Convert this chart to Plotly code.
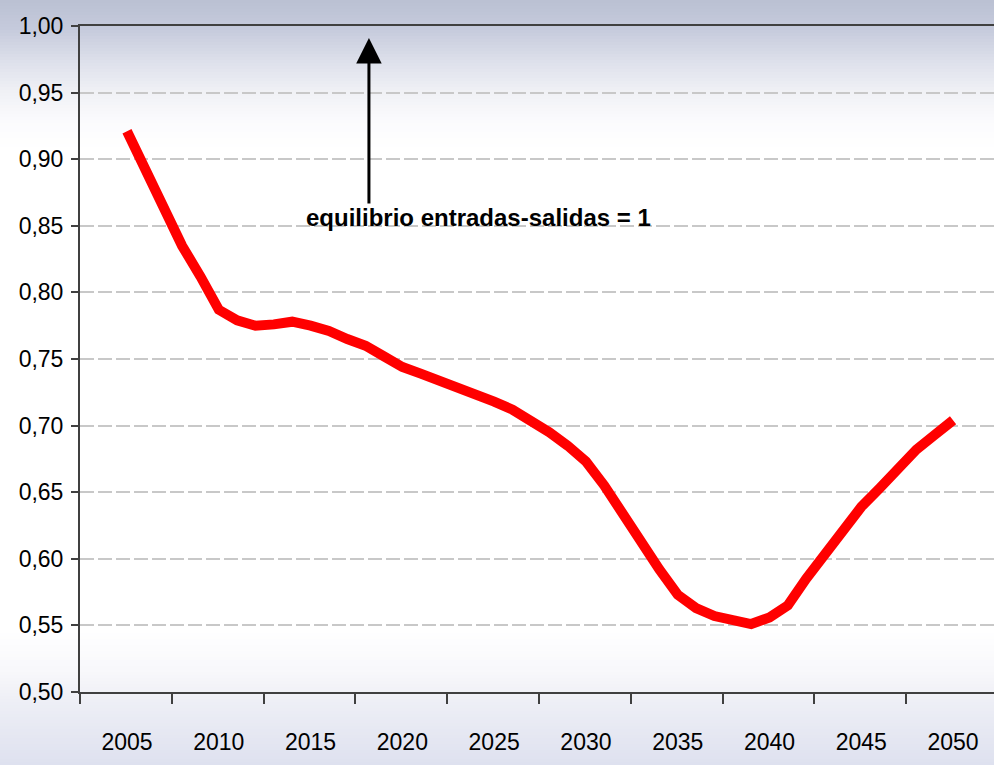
import numpy as np
import plotly.graph_objects as go

years = list(range(2005, 2051))
ratio = [0.921, 0.893, 0.862, 0.835, 0.812, 0.787, 0.779, 0.775, 0.776, 0.778,
         0.775, 0.771, 0.765, 0.760, 0.752, 0.744, 0.739, 0.734, 0.730, 0.725,
         0.718, 0.712, 0.704, 0.695, 0.685, 0.673, 0.655, 0.633, 0.611, 0.592,
         0.573, 0.563, 0.557, 0.554, 0.551, 0.556, 0.565, 0.585, 0.604, 0.621,
         0.639, 0.653, 0.668, 0.682, 0.693, 0.704]
tick_years = list(range(2005, 2051, 5))
tick_labels = [str(y) for y in tick_years]
y_ticks = [0.50, 0.55, 0.60, 0.65, 0.70, 0.75, 0.80, 0.85, 0.90, 0.95, 1.00]
note_text = "equilibrio entradas-salidas = 1"

W, H = 994, 765
ML, MR, MT, MB = 80, 0, 26, 73
PH = H - MT - MB
PW = W - ML - MR

FONT = "Liberation Sans, Arial, sans-serif"

fig = go.Figure()
fig.add_trace(go.Scatter(x=years, y=ratio, mode="lines",
                         line=dict(color="#ff0000", width=10),
                         hoverinfo="skip", showlegend=False))

# background gradient bands (style only)
stops_px = [0, 30, 60, 90, 120, 150, 630, 670, 700, 765]
stops_c = [(186, 192, 211), (198, 203, 220), (220, 223, 234), (239, 240, 245),
           (251, 251, 253), (255, 255, 255), (255, 255, 255), (248, 248, 251),
           (238, 239, 246), (222, 225, 239)]
shapes = []
step = 3
for p in list(range(0, 150, step)) + list(range(630, 765, step)):
    c = [int(round(np.interp(p + step / 2, stops_px, [s[i] for s in stops_c]))) for i in range(3)]
    shapes.append(dict(type="rect", xref="paper", yref="paper", layer="below",
                       x0=-ML / PW, x1=1.0 + MR / PW,
                       y0=(H - MB - (p + step)) / PH, y1=(H - MB - p) / PH,
                       fillcolor=f"rgb({c[0]},{c[1]},{c[2]})", line=dict(width=0)))

fig.update_layout(
    width=W, height=H,
    margin=dict(l=ML, r=MR, t=MT, b=MB),
    paper_bgcolor="white", plot_bgcolor="rgba(0,0,0,0)",
    separators=", ",
    shapes=shapes,
    showlegend=False,
    font=dict(family=FONT, color="black", size=23),
)
fig.update_xaxes(
    range=[2002.44, 2052.23],
    tickvals=tick_years, ticktext=tick_labels,
    ticks="", showgrid=False, zeroline=False,
    showline=True, linecolor="#404040", linewidth=2, mirror=True,
    tickfont=dict(family=FONT, size=23, color="black"),
    ticklabelstandoff=28,
    minor=dict(tick0=2002.44, dtick=5, ticks="outside", ticklen=10,
               tickcolor="#404040", tickwidth=1.5, showgrid=False),
)
fig.update_yaxes(
    range=[0.5, 1.0], tickvals=y_ticks, tickformat=".2f",
    ticks="outside", ticklen=7, tickcolor="#404040", tickwidth=1.5,
    showgrid=True, gridcolor="#c8c8c8", gridwidth=1.5, griddash="14px,4px",
    zeroline=False, showline=True, linecolor="#404040", linewidth=2,
    tickfont=dict(family=FONT, size=23, color="black"),
    ticklabelstandoff=3,
)
fig.add_annotation(x=2018.18, y=0.991, ax=2018.18, ay=0.8656, axref="x", ayref="y",
                   xref="x", yref="y", text="", showarrow=True,
                   arrowhead=2, arrowsize=1.7, arrowwidth=3, arrowcolor="black",
                   standoff=0, startstandoff=0)
fig.add_annotation(x=2024.17, y=0.8566, xref="x", yref="y", text=f"<b>{note_text}</b>",
                   showarrow=False, font=dict(family=FONT, size=24, color="black"))

fig.write_html("out.html", config={"displayModeBar": False},
               post_script="document.body.style.margin='0';")
